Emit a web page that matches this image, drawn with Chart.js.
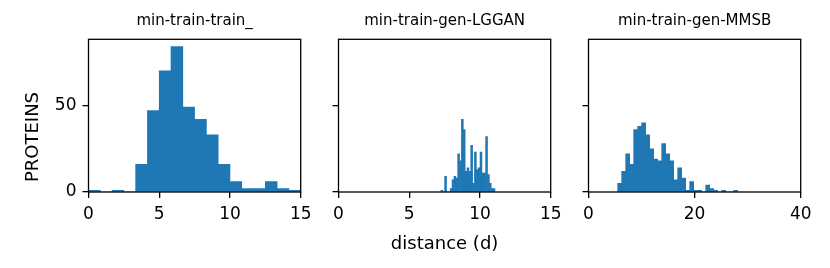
<!DOCTYPE html>
<html><head><meta charset="utf-8">
<script src="https://cdn.jsdelivr.net/npm/chart.js@4"></script>
<style>
html,body{margin:0;padding:0;background:#fff;}
#wrap{position:relative;width:830px;height:268px;overflow:hidden;background:#fff;}
canvas{position:absolute;left:0;top:0;}
</style></head><body>
<div id="wrap">
<canvas id="c1" width="830" height="268"></canvas>
<canvas id="c2" width="830" height="268"></canvas>
<canvas id="c3" width="830" height="268"></canvas>
</div>
<script>
// ---- data ----
const panelTitles = ['min-train-train_', 'min-train-gen-LGGAN', 'min-train-gen-MMSB'];
const xLabel = 'distance (d)';
const yLabel = 'PROTEINS';

const trainBinStart = 0;
const trainBinWidth = 0.8333;
const trainCounts = [1,0,1,0,16,47,70,84,49,42,33,16,6,2,2,6,2,1];

const lgganBinStart = 7.24;
const lgganBinWidth = 0.1317;
const lgganCounts = [1,0,9,0,0,2,7,9,8,22,18,42,36,12,14,12,27,5,23,13,14,23,11,11,32,10,5,2,2];

const mmsbBinStart = 5.5;
const mmsbBinWidth = 0.754;
const mmsbCounts = [5,12,22,16,36,38,40,33,25,19,18,28,22,18,7,14,8,1,6,1,1,0,4,2,1,0,1,0,0,1];

const xTicksTrain = [0,5,10,15];
const xTicksLggan = [0,5,10,15];
const xTicksMmsb = [0,20,40];
const yTicks = [0,50];
const yMax = 88.2;

// ---- drawing ----
const FONT = '"DejaVu Sans", "Liberation Sans", sans-serif';
const framePlugin = {
  id: 'frame',
  afterDraw(chart, args, opts) {
    const {ctx, chartArea: a} = chart;
    ctx.save();
    ctx.strokeStyle = '#000';
    ctx.lineWidth = 1.3;
    ctx.strokeRect(a.left, a.top, a.right - a.left, a.bottom - a.top);
    ctx.fillStyle = '#000';
    ctx.font = '15px ' + FONT;
    ctx.textAlign = 'center';
    ctx.textBaseline = 'alphabetic';
    ctx.fillText(opts.text, (a.left + a.right) / 2, 25);
    if (opts.ylabel) {
      // figure-level y label, centred on the figure height
      ctx.font = '18px ' + FONT;
      ctx.textBaseline = 'middle';
      ctx.translate(33, chart.height / 2 + 3);
      ctx.rotate(-Math.PI / 2);
      ctx.fillText(opts.ylabel, 0, 0);
    }
    ctx.restore();
  }
};

function bins(start, width, counts) {
  return counts.map((c, i) => ({x: start + (i + 0.5) * width, y: c}));
}

function makeChart(id, o) {
  return new Chart(document.getElementById(id), {
    type: 'bar',
    data: {datasets: [{
      data: bins(o.start, o.width, o.counts),
      backgroundColor: '#1f77b4',
      borderWidth: 0,
      barPercentage: 1,
      categoryPercentage: 1
    }]},
    options: {
      responsive: false,
      animation: false,
      devicePixelRatio: 1,
      layout: {padding: {left: o.padL, right: o.padR, top: 39.3, bottom: 0}},
      plugins: {legend: {display: false}, tooltip: {enabled: false}, frame: {text: o.title, ylabel: o.yTitle}},
      scales: {
        x: {
          type: 'linear', min: o.xMin, max: o.xMax, offset: false,
          afterBuildTicks: s => { s.ticks = o.xTicks.map(v => ({value: v})); },
          afterFit: s => { s.height = 76; },
          grid: {offset: false, drawOnChartArea: false, drawTicks: true, tickLength: 6, color: '#000', lineWidth: 1.3},
          border: {display: false},
          ticks: {font: {family: FONT, size: 17}, color: '#000', padding: 6, maxRotation: 0, autoSkip: false},
          title: o.xTitle ? {display: true, text: o.xTitle, color: '#000', font: {family: FONT, size: 18}, padding: {top: 0, bottom: 13}} : {display: false}
        },
        y: {
          min: 0, max: yMax,
          afterBuildTicks: s => { s.ticks = yTicks.map(v => ({value: v})); },
          afterFit: s => { s.width = o.yW; },
          grid: {drawOnChartArea: false, drawTicks: true, tickLength: 6, color: '#000', lineWidth: 1.3},
          border: {display: false},
          ticks: {font: {family: FONT, size: 17}, color: '#000', padding: 6, callback: o.showY ? (v => v) : (() => '')},
          title: {display: false}
        }
      }
    },
    plugins: [framePlugin]
  });
}

makeChart('c1', {start: trainBinStart, width: trainBinWidth, counts: trainCounts, xMin: 0, xMax: 15, xTicks: xTicksTrain,
  padL: 0, padR: 529.3, yW: 88.5, showY: true, yTitle: yLabel, title: panelTitles[0]});
makeChart('c2', {start: lgganBinStart, width: lgganBinWidth, counts: lgganCounts, xMin: 0, xMax: 15, xTicks: xTicksLggan,
  padL: 328.5, padR: 279.3, yW: 10, showY: false, xTitle: xLabel, title: panelTitles[1]});
makeChart('c3', {start: mmsbBinStart, width: mmsbBinWidth, counts: mmsbCounts, xMin: 0, xMax: 40, xTicks: xTicksMmsb,
  padL: 578.5, padR: 29.3, yW: 10, showY: false, title: panelTitles[2]});
</script>
</body></html>
